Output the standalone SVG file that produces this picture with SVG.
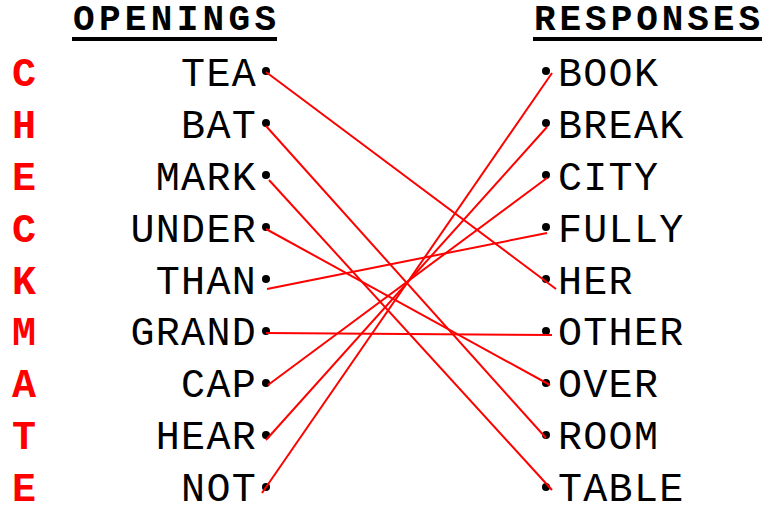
<svg xmlns="http://www.w3.org/2000/svg" width="764" height="507" viewBox="0 0 764 507">
<style>
.t{font-family:"Liberation Mono","Courier New",monospace;font-size:40px;letter-spacing:1.3px;fill:#000}
.l{text-anchor:end}
.r{font-family:"Liberation Mono","Courier New",monospace;font-size:40px;fill:#f00;font-weight:bold}
.h{font-family:"Liberation Mono","Courier New",monospace;font-size:36px;font-weight:bold;fill:#000}
.d{fill:#000}
.c line{stroke:#f00;stroke-width:2}
</style>
<rect width="764" height="507" fill="#fff"/>
<g id="headers">
<text class="h" x="73" y="30" textLength="203" lengthAdjust="spacing">OPENINGS</text>
<rect x="72" y="37" width="205" height="4"/>
<text class="h" x="534" y="30" textLength="226" lengthAdjust="spacing">RESPONSES</text>
<rect x="533" y="37" width="229" height="4"/>
</g>
<g id="acrostic">
<text class="r" x="12" y="86">C</text>
<text class="r" x="12" y="138">H</text>
<text class="r" x="12" y="190">E</text>
<text class="r" x="12" y="242">C</text>
<text class="r" x="12" y="294">K</text>
<text class="r" x="12" y="345">M</text>
<text class="r" x="12" y="397">A</text>
<text class="r" x="12" y="449">T</text>
<text class="r" x="12" y="501">E</text>
</g>
<g id="openings">
<g id="o-tea"><text class="t l" x="257" y="86">TEA</text><circle class="d" cx="266" cy="71" r="4"/></g>
<g id="o-bat"><text class="t l" x="257" y="138">BAT</text><circle class="d" cx="266" cy="123" r="4"/></g>
<g id="o-mark"><text class="t l" x="257" y="190">MARK</text><circle class="d" cx="266" cy="175" r="4"/></g>
<g id="o-under"><text class="t l" x="257" y="242">UNDER</text><circle class="d" cx="266" cy="227" r="4"/></g>
<g id="o-than"><text class="t l" x="257" y="294">THAN</text><circle class="d" cx="266" cy="279" r="4"/></g>
<g id="o-grand"><text class="t l" x="257" y="345">GRAND</text><circle class="d" cx="266" cy="331" r="4"/></g>
<g id="o-cap"><text class="t l" x="257" y="397">CAP</text><circle class="d" cx="266" cy="383" r="4"/></g>
<g id="o-hear"><text class="t l" x="257" y="449">HEAR</text><circle class="d" cx="266" cy="435" r="4"/></g>
<g id="o-not"><text class="t l" x="257" y="501">NOT</text><circle class="d" cx="266" cy="487" r="4"/></g>
</g>
<g id="responses">
<g id="r-book"><circle class="d" cx="546" cy="71" r="4"/><text class="t" x="558" y="86">BOOK</text></g>
<g id="r-break"><circle class="d" cx="546" cy="123" r="4"/><text class="t" x="558" y="138">BREAK</text></g>
<g id="r-city"><circle class="d" cx="546" cy="175" r="4"/><text class="t" x="558" y="190">CITY</text></g>
<g id="r-fully"><circle class="d" cx="546" cy="227" r="4"/><text class="t" x="558" y="242">FULLY</text></g>
<g id="r-her"><circle class="d" cx="546" cy="279" r="4"/><text class="t" x="558" y="294">HER</text></g>
<g id="r-other"><circle class="d" cx="546" cy="331" r="4"/><text class="t" x="558" y="345">OTHER</text></g>
<g id="r-over"><circle class="d" cx="546" cy="383" r="4"/><text class="t" x="558" y="397">OVER</text></g>
<g id="r-room"><circle class="d" cx="546" cy="435" r="4"/><text class="t" x="558" y="449">ROOM</text></g>
<g id="r-table"><circle class="d" cx="546" cy="487" r="4"/><text class="t" x="558" y="501">TABLE</text></g>
</g>
<g id="connectors" class="c">
<line x1="266" y1="72" x2="556" y2="289"/>
<line x1="266" y1="126" x2="546" y2="438"/>
<line x1="269" y1="180" x2="552" y2="490"/>
<line x1="266" y1="229" x2="550" y2="385"/>
<line x1="267" y1="289" x2="547" y2="233"/>
<line x1="266" y1="333" x2="552" y2="335"/>
<line x1="268" y1="385" x2="547" y2="178"/>
<line x1="266" y1="440" x2="547" y2="127"/>
<line x1="262" y1="493" x2="552" y2="73"/>
</g>
</svg>
